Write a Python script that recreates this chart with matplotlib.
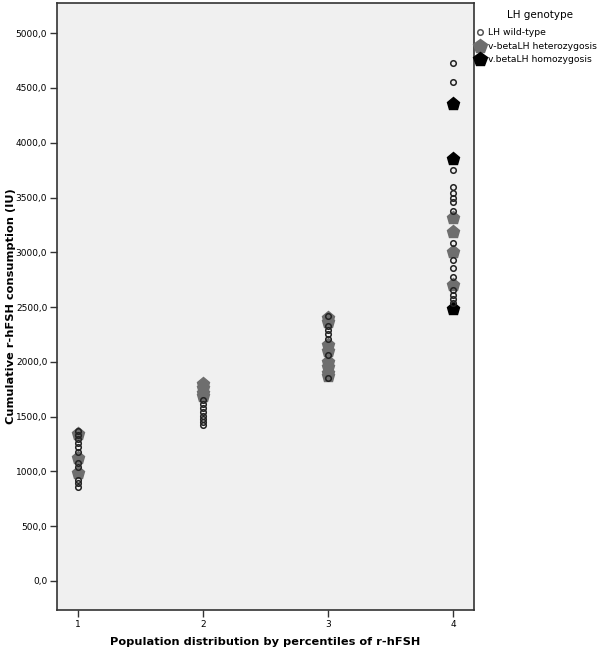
import numpy as np
import matplotlib.pyplot as plt
from matplotlib.ticker import FuncFormatter

# cumulative r-hFSH (IU) per percentile group
g1_wild = [1370, 1330, 1295, 1260, 1220, 1180, 1080, 1040, 920, 895, 860]
g1_het = [1340, 1120, 985]

g2_wild = [1650, 1615, 1580, 1545, 1510, 1480, 1450, 1420]
g2_het = [1800, 1760, 1720, 1690]

g3_wild = [2420, 2330, 2290, 2250, 2210, 2060, 1850]
g3_het = [2400, 2360, 2150, 2100, 2000, 1950, 1900, 1870]

g4_wild = [4726, 4553, 3750, 3595, 3540, 3500, 3458, 3376, 3084, 2929,
           2856, 2774, 2655, 2610, 2570, 2536]
g4_het = [3310, 3184, 3002, 2705]
g4_hom = [4352, 3850, 2482]

wild = [g1_wild, g2_wild, g3_wild, g4_wild]
het = [g1_het, g2_het, g3_het, g4_het]
hom = [[], [], [], g4_hom]
groups = [1, 2, 3, 4]

fig = plt.figure(figsize=(6, 6.54), dpi=100)
ax = fig.add_axes([0.095, 0.0673, 0.695, 0.928])
ax.set_facecolor('#f0f0f0')

for x, w, h, m in zip(groups, wild, het, hom):
    ax.plot([x] * len(h), h, 'p', ms=9.5, color='#6e6e6e', mec='#6e6e6e', zorder=2)
    ax.plot([x] * len(m), m, 'p', ms=9.5, color='black', zorder=2)
    ax.plot([x] * len(w), w, 'o', ms=4, mfc='none', mec='#222222', mew=1.1, zorder=3)

ax.set_xlim(0.832, 4.168)
ax.set_ylim(-265, 5275)
ax.set_xticks(groups)
ax.set_yticks(np.arange(0, 5001, 500))
ax.yaxis.set_major_formatter(FuncFormatter(lambda v, p: f'{v:.1f}'.replace('.', ',')))
ax.tick_params(direction='out', length=5, width=1, color='#333333', labelsize=6.5, pad=2)
for s in ax.spines.values():
    s.set_color('#333333')
    s.set_linewidth(1.2)

ax.set_ylabel('Cumulative r-hFSH consumption (IU)', fontsize=8.2, fontweight='bold')
ax.set_xlabel('Population distribution by percentiles of r-hFSH', fontsize=8.2,
              fontweight='bold')
ax.yaxis.set_label_coords(-0.098, 0.5)
ax.xaxis.set_label_coords(0.5, -0.044)

handles = [
    plt.Line2D([], [], ls='none', marker='o', ms=4, mfc='none', mec='#555555', mew=1.1),
    plt.Line2D([], [], ls='none', marker='p', ms=10.5, color='#6e6e6e'),
    plt.Line2D([], [], ls='none', marker='p', ms=10.5, color='black'),
]
labels = ['LH wild-type', 'v-betaLH heterozygosis', 'v.betaLH homozygosis']
fig.text(540 / 600, 1 - 15 / 654, 'LH genotype', ha='center', va='center', fontsize=7.5)
fig.legend(handles, labels, loc='upper left', bbox_to_anchor=(0.791, 0.957),
           frameon=False, fontsize=6.7, handletextpad=0.2, handlelength=1.2,
           labelspacing=0.5, borderpad=0, borderaxespad=0)

fig.savefig('out.png', dpi=100)
